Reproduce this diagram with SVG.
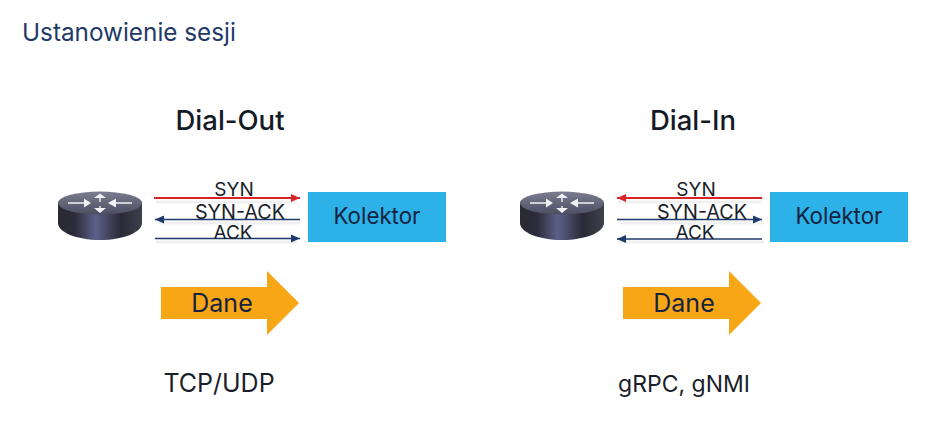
<svg xmlns="http://www.w3.org/2000/svg" width="934" height="425" viewBox="0 0 934 425">
<style>
text{font-family:"Inter","Liberation Sans",Arial,sans-serif;text-anchor:middle}
.t{font-size:27.500px;fill:#141a26;font-weight:500}
.l{font-size:19px;fill:#1a1f2b}
.sa{font-size:19.800px;fill:#1a1f2b}
.k{font-size:22.300px;fill:#14233f}
.d{font-size:25px;fill:#14233f}
.p{font-size:25px;fill:#1a1f2b}
.box{fill:#2cb1e8}
.ar{fill:#f7a616}
.red{stroke:#d8232a;stroke-width:2;fill:none}
.blue{stroke:#1c3a6b;stroke-width:1.300;fill:none}
.sh{stroke:#000;stroke-opacity:.06;stroke-width:3;fill:none}
</style>
<defs>
<marker id="mr" markerUnits="userSpaceOnUse" markerWidth="10" markerHeight="10" refX="9" refY="5" orient="auto-start-reverse"><path d="M0 1L9 5L0 9Z" fill="#d8232a"/></marker>
<marker id="mb" markerUnits="userSpaceOnUse" markerWidth="10" markerHeight="10" refX="9" refY="5" orient="auto-start-reverse"><path d="M0 1L9 5L0 9Z" fill="#1c3a6b"/></marker>
<linearGradient id="side" x1="0" x2="1" y1="0" y2="0"><stop offset="0" stop-color="#2a2a34"/><stop offset=".2" stop-color="#2c2c3a"/><stop offset=".45" stop-color="#5c6088"/><stop offset=".75" stop-color="#2a2a36"/><stop offset="1" stop-color="#40404c"/></linearGradient>
<linearGradient id="top" x1="0" x2="0" y1="0" y2="1"><stop offset="0" stop-color="#7a7e90"/><stop offset="1" stop-color="#4c4e62"/></linearGradient>
<g id="router">
<path d="M0 12V32C0 41 18 49 42 49S84 41 84 32V12Z" fill="url(#side)"/>
<ellipse cx="42" cy="12" rx="42" ry="11.500" fill="url(#top)"/>
<path d="M10 12H28M74 12H56M42 11V6M42 15V20" stroke="#f2f2f6" stroke-width="1.400" fill="none"/>
<path d="M26 7.500L33 12L26 16.500ZM58 7.500L50 12L58 16.500ZM36 7L42 2.500L48 7ZM36 17L42 22L48 17Z" fill="#f2f2f6"/>
</g>
</defs>
<text x="22" y="41" style="text-anchor:start;font-size:24.300px;fill:#1f3a68">Ustanowienie sesji</text>
<g id="connectors">
<path class="sh" d="M156 202H297M158 223H300M156 242H297M618 202H762M620 223H764M618 242H764"/>
<path class="red" d="M154 198H300" marker-end="url(#mr)"/>
<path class="blue" d="M300 219.500H155" marker-end="url(#mb)"/>
<path class="blue" d="M155 238.500H300" marker-end="url(#mb)"/>
<path class="red" d="M762 198H617" marker-end="url(#mr)"/>
<path class="blue" d="M617 219.500H762" marker-end="url(#mb)"/>
<path class="blue" d="M762 239H617" marker-end="url(#mb)"/>
</g>
<g id="dialout">
<text class="t" x="230" y="130">Dial-Out</text>
<text class="l" x="234" y="196">SYN</text>
<text class="sa" x="240" y="219">SYN-ACK</text>
<text class="l" x="233" y="239">ACK</text>
</g>
<g id="router-left"><use href="#router" x="58" y="191"/></g>
<g id="kolektor-left"><rect class="box" x="308" y="192" width="138" height="50"/><text class="k" x="377" y="224">Kolektor</text></g>
<g id="dane-left"><path class="ar" d="M161 287H267V271L299 303L267 335V319H161Z"/><text class="d" x="222" y="312">Dane</text></g>
<g id="proto-left"><text class="p" x="219" y="392">TCP/UDP</text></g>
<g id="dialin">
<text class="t" x="693" y="130">Dial-In</text>
<text class="l" x="696" y="196">SYN</text>
<text class="sa" x="702" y="219">SYN-ACK</text>
<text class="l" x="695" y="239">ACK</text>
</g>
<g id="router-right"><use href="#router" x="520" y="191"/></g>
<g id="kolektor-right"><rect class="box" x="770" y="192" width="138" height="50"/><text class="k" x="839" y="224">Kolektor</text></g>
<g id="dane-right"><path class="ar" d="M623 287H729V271L761 303L729 335V319H623Z"/><text class="d" x="684" y="312">Dane</text></g>
<g id="proto-right"><text class="p" x="684" y="392" style="font-size:23px">gRPC, gNMI</text></g>
</svg>
